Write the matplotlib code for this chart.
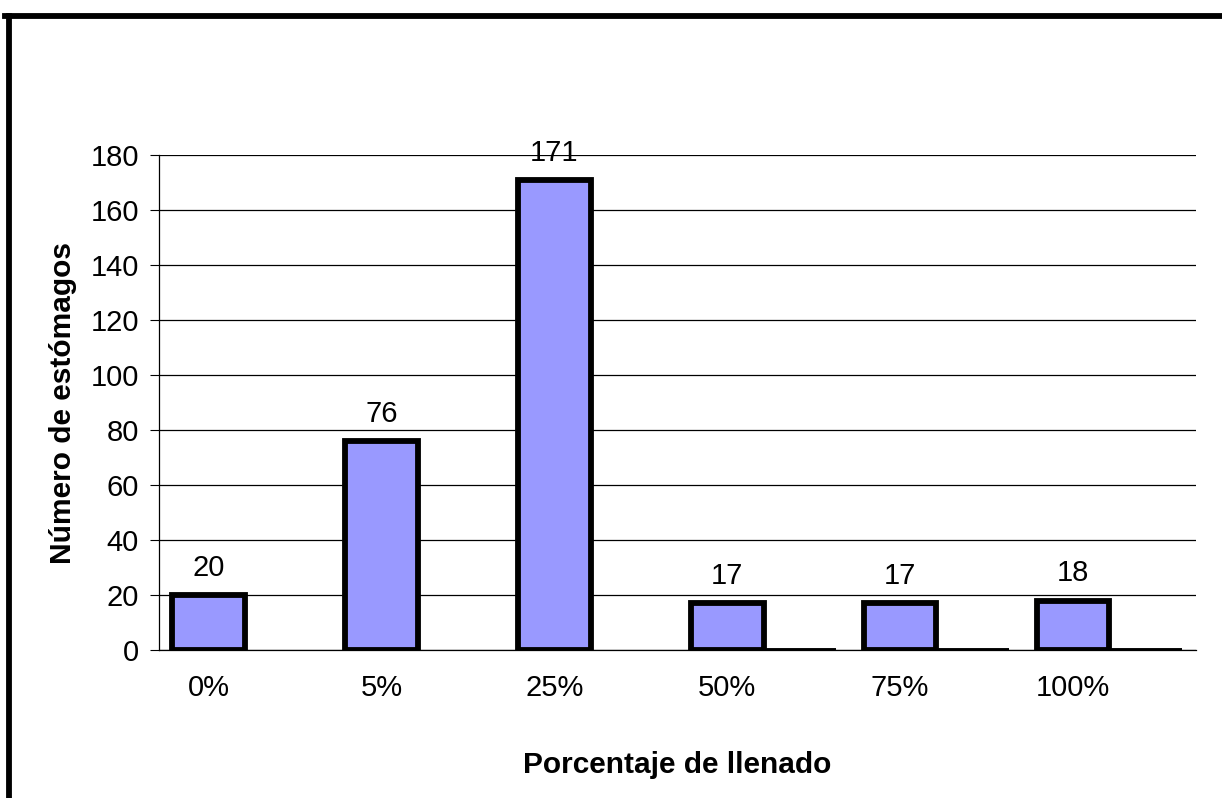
import numpy as np
import matplotlib.pyplot as plt
from matplotlib.lines import Line2D

# data
categories = ["0%", "5%", "25%", "50%", "75%", "100%"]
stomachs = [20, 76, 171, 17, 17, 18]
second_series = [np.nan, np.nan, np.nan, 0, 0, 0]  # empty series, shows as baseline dashes
y_ticks = [0, 20, 40, 60, 80, 100, 120, 140, 160, 180]

plt.rcParams['font.family'] = ['Liberation Sans', 'DejaVu Sans']

W, H = 1222, 798
fig = plt.figure(figsize=(W / 100, H / 100), dpi=100)
ax = fig.add_axes([159 / W, (H - 650) / H, (1196 - 159) / W, (650 - 155) / H])

x = np.arange(len(categories))
offset = 0.078
width = 0.42

ax.bar(x + offset, stomachs, width=width, align='edge', color='#9999FF',
       edgecolor='black', linewidth=4.2, zorder=3)
ax.bar(x + offset + width, second_series, width=width, align='edge', color='#9999FF',
       edgecolor='black', linewidth=2.8, zorder=3)

for xi, v in zip(x, stomachs):
    ax.annotate(str(v), (xi + offset + width / 2, v), xytext=(0, 19.5),
                textcoords='offset points', ha='center', va='center', fontsize=21)

ax.set_xlim(0, len(categories))
ax.set_ylim(0, 180)
ax.set_yticks(y_ticks)
ax.set_xticks(x + offset + width / 2)
ax.set_xticklabels(categories)
ax.tick_params(axis='x', length=0, pad=17, labelsize=21)
ax.tick_params(axis='y', length=6.5, width=0.8, pad=8, labelsize=21)

ax.grid(axis='y', color='black', linewidth=0.9, zorder=0)
ax.set_axisbelow(True)
for s in ['top', 'right']:
    ax.spines[s].set_visible(False)
ax.spines['left'].set_linewidth(0.9)
ax.spines['bottom'].set_linewidth(0.9)

ax.set_ylabel("Número de estómagos", fontsize=21.5, fontweight='bold')
ax.set_xlabel("Porcentaje de llenado", fontsize=21.5, fontweight='bold')
ax.yaxis.set_label_coords((77 - 159) / 1037, 0.5)
ax.xaxis.set_label_coords(0.5, (650 - 751) / 495)

# thick frame on the top and left of the figure
fig.add_artist(Line2D([5 / W, 1], [1 - 15.5 / H, 1 - 15.5 / H], color='black', linewidth=4.2))
fig.add_artist(Line2D([9 / W, 9 / W], [0, 1 - 15.5 / H], color='black', linewidth=4.2))

fig.savefig('out.png', dpi=100)
